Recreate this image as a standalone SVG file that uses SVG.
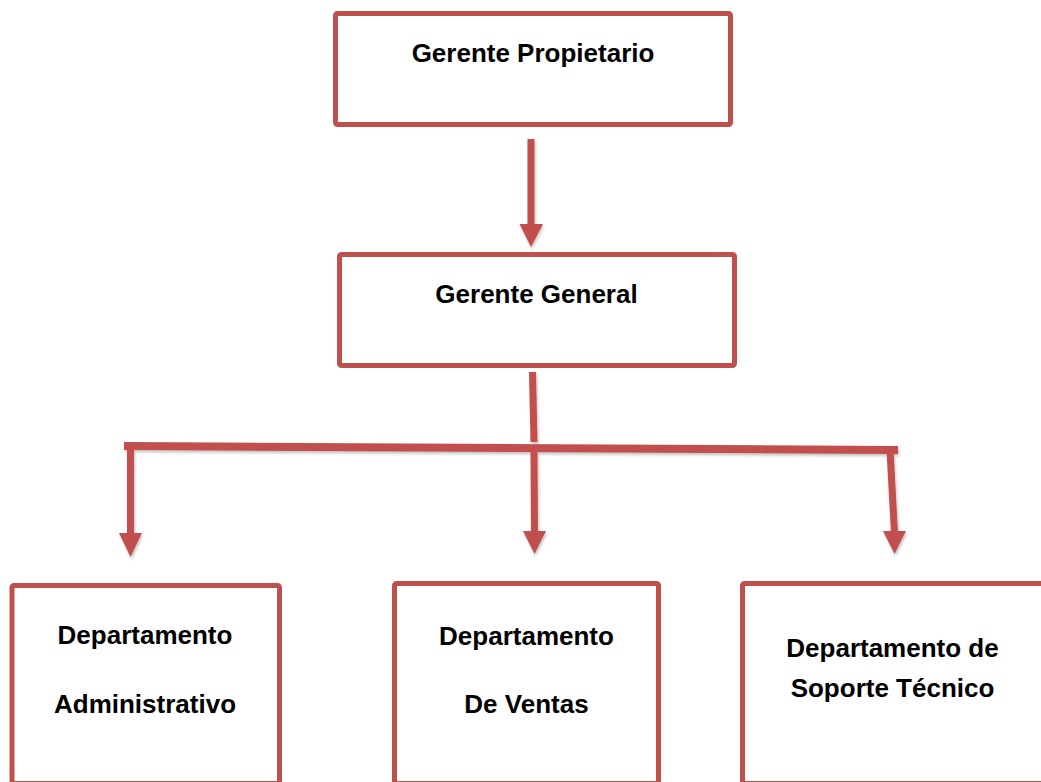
<svg xmlns="http://www.w3.org/2000/svg" width="1041" height="782" viewBox="0 0 1041 782">
  <style>
    .box { fill: #ffffff; stroke: #C0504D; stroke-width: 5; }
    .lbl { font-family: "Liberation Sans", Arial, sans-serif; font-weight: bold; font-size: 26px; fill: #000000; text-anchor: middle; }
    .shaft { stroke: #C0504D; stroke-width: 7; fill: none; stroke-linecap: butt; }
    .bar { stroke: #C0504D; stroke-width: 8; fill: none; stroke-linecap: butt; }
    .head { fill: #C0504D; }
  </style>
  <defs>
    <filter id="shadow" x="-20%" y="-20%" width="140%" height="140%">
      <feDropShadow dx="1" dy="2" stdDeviation="1.5" flood-color="#000000" flood-opacity="0.25"/>
    </filter>
  </defs>
  <rect width="1041" height="782" fill="#ffffff"/>

  <g id="connectors" filter="url(#shadow)">
    <line class="shaft" x1="531" y1="139" x2="531" y2="226"/>
    <polygon class="head" points="519.5,224 543,224 531,247"/>
    <line class="shaft" x1="532.5" y1="372" x2="534" y2="442"/>
    <line class="bar" x1="124" y1="446" x2="898" y2="450"/>
    <line class="shaft" x1="130.5" y1="446" x2="130.5" y2="535"/>
    <polygon class="head" points="119,533 142,533 130.5,557"/>
    <line class="shaft" x1="534" y1="450" x2="534.5" y2="533"/>
    <polygon class="head" points="523,531 546,531 534.5,554"/>
    <line class="shaft" x1="890" y1="450" x2="894.5" y2="533"/>
    <polygon class="head" points="883,531 906,531 894.5,554"/>
  </g>

  <g id="gerente-propietario">
    <rect class="box" x="335.5" y="13.5" width="395" height="111" rx="2"/>
    <text class="lbl" x="533" y="62">Gerente Propietario</text>
  </g>

  <g id="gerente-general">
    <rect class="box" x="339.5" y="254.5" width="395" height="111" rx="2"/>
    <text class="lbl" x="536.5" y="303">Gerente General</text>
  </g>

  <g id="dep-administrativo">
    <rect class="box" x="12" y="585.5" width="267.5" height="198" rx="2"/>
    <text class="lbl" x="145" y="644">Departamento</text>
    <text class="lbl" x="145" y="713">Administrativo</text>
  </g>

  <g id="dep-ventas">
    <rect class="box" x="394.5" y="583.5" width="264" height="200" rx="2"/>
    <text class="lbl" x="526.5" y="645">Departamento</text>
    <text class="lbl" x="526.5" y="713">De Ventas</text>
  </g>

  <g id="dep-soporte">
    <rect class="box" x="742.5" y="583.5" width="400" height="200" rx="2"/>
    <text class="lbl" x="892.5" y="657">Departamento de</text>
    <text class="lbl" x="892.5" y="697">Soporte Técnico</text>
  </g>
</svg>
